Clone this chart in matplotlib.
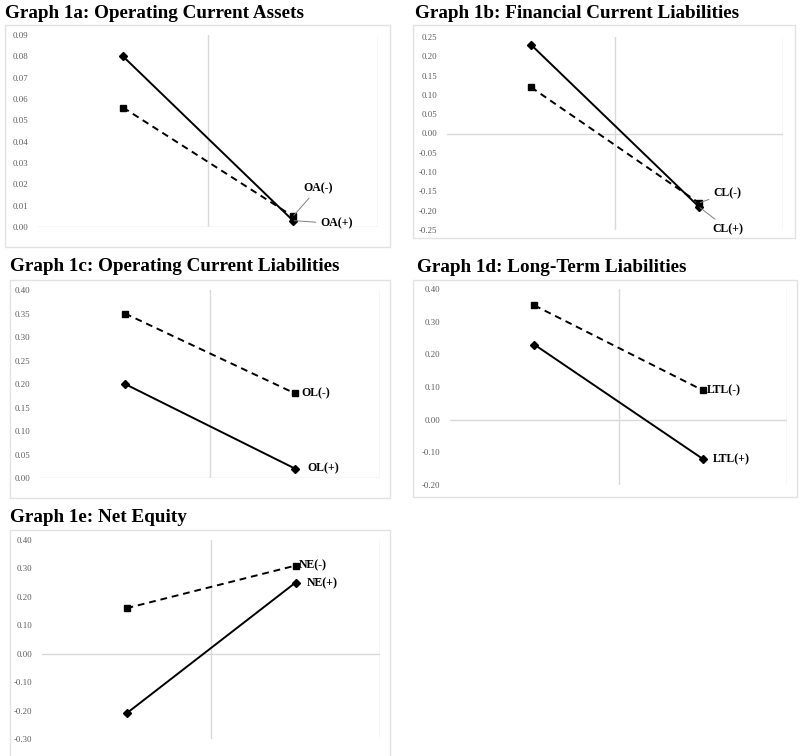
import matplotlib
matplotlib.use("Agg")
import matplotlib.pyplot as plt
from matplotlib.patches import Rectangle
import numpy as np

plt.rcParams['font.family'] = ['Liberation Serif', 'DejaVu Serif']

W, H = 800, 756

# chart values
titles = ["Graph 1a: Operating Current Assets",
          "Graph 1b: Financial Current Liabilities",
          "Graph 1c: Operating Current Liabilities",
          "Graph 1d: Long-Term Liabilities",
          "Graph 1e: Net Equity"]
pos_vals = [[0.080, 0.003], [0.23, -0.19], [0.20, 0.02], [0.23, -0.12], [-0.21, 0.25]]
neg_vals = [[0.056, 0.005], [0.12, -0.18], [0.35, 0.18], [0.35, 0.09], [0.16, 0.31]]
neg_labels = ["OA(-)", "CL(-)", "OL(-)", "LTL(-)", "NE(-)"]
pos_labels = ["OA(+)", "CL(+)", "OL(+)", "LTL(+)", "NE(+)"]
y_lims = [(0.0, 0.09), (-0.25, 0.25), (0.0, 0.40), (-0.20, 0.40), (-0.30, 0.40)]
y_steps = [0.01, 0.05, 0.05, 0.10, 0.10]

# layout in pixels
plot_boxes = [(38, 35, 378, 227), (447, 37, 783, 230), (40, 290, 380, 478),
              (450, 289, 787, 485), (42, 540, 380, 739)]
outer_boxes = [(5, 25, 390, 247), (413, 25, 795, 238), (10, 280, 390, 498),
               (413, 280, 797, 497), (10, 530, 390, 770)]
title_pos = [(5, 18), (415, 18), (10, 271), (417, 272), (10, 522)]
# label offsets in pixels (dx, dy), dy down positive
neg_off = [(10, -28), (14, -10), (6, 0), (4, 0), (3, 0)]
pos_off = [(27, 3), (13, 22), (12, 0), (10, 0), (11, 1)]
leader = [True, True, False, False, False]

fig = plt.figure(figsize=(W / 100, H / 100), dpi=100)

grid_c = '#d9d9d9'
for i in range(5):
    ox0, oy0, ox1, oy1 = outer_boxes[i]
    fig.patches.append(Rectangle((ox0 / W, 1 - oy1 / H), (ox1 - ox0) / W, (oy1 - oy0) / H,
                                 transform=fig.transFigure, fill=False,
                                 edgecolor='#e2e2e2', lw=1))
    tx, ty = title_pos[i]
    fig.text(tx / W, 1 - ty / H, titles[i], fontsize=13.8, fontweight='bold',
             va='baseline', ha='left')

    x0, y0, x1, y1 = plot_boxes[i]
    ax = fig.add_axes([x0 / W, 1 - y1 / H, (x1 - x0) / W, (y1 - y0) / H])
    ax.set_facecolor('none')
    for s in ax.spines.values():
        s.set_visible(False)
    lo, hi = y_lims[i]
    ax.set_ylim(lo, hi)
    ax.set_xlim(-0.5, 1.5)
    ticks = np.round(np.arange(lo, hi + y_steps[i] / 2, y_steps[i]), 3)
    ax.set_yticks(ticks)
    ax.set_yticklabels(["%.2f" % (t + 0.0) if abs(t) > 1e-9 else "0.00" for t in ticks])
    ax.tick_params(axis='y', length=0, pad=7, labelsize=6.3, labelcolor='#595959')
    ax.set_xticks([])
    for xv in [0.5, 1.5]:
        ax.axvline(xv, color=grid_c, lw=1, zorder=0)
    ax.axhline(0, color=grid_c, lw=1, zorder=0)

    xs = [0, 1]
    ax.plot(xs, neg_vals[i], color='black', lw=1.4, dashes=(3.5, 2.5),
            marker='s', ms=4.2, zorder=3)
    ax.plot(xs, pos_vals[i], color='black', lw=1.4, marker='D', ms=4, zorder=4)

    for vals, lab, off in [(neg_vals[i], neg_labels[i], neg_off[i]),
                           (pos_vals[i], pos_labels[i], pos_off[i])]:
        dx, dy = off
        kw = {}
        if leader[i]:
            kw['arrowprops'] = dict(arrowstyle='-', color='#7f7f7f', lw=0.7,
                                    shrinkA=1, shrinkB=1)
        ax.annotate(lab, xy=(1, vals[1]), xytext=(dx * 0.72, -dy * 0.72),
                    textcoords='offset points', ha='left', va='center',
                    fontsize=8.5, fontweight='bold', zorder=5, **kw)

fig.savefig("out.png", dpi=100)
